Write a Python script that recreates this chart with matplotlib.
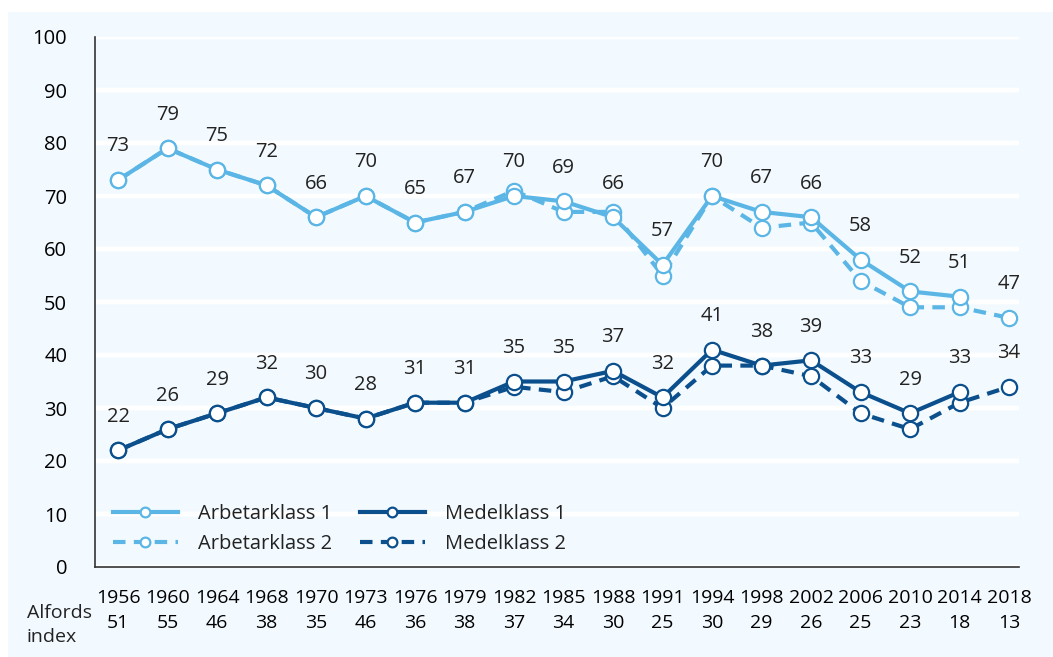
import matplotlib.pyplot as plt
import matplotlib as mpl
import numpy as np

mpl.rcParams.update({
    "font.family": ["Open Sans", "DejaVu Sans"],
    "font.size": 14,
    "text.color": "#222222",
})

years = ["1956", "1960", "1964", "1968", "1970", "1973", "1976", "1979", "1982", "1985",
         "1988", "1991", "1994", "1998", "2002", "2006", "2010", "2014", "2018"]
alford = [51, 55, 46, 38, 35, 46, 36, 38, 37, 34, 30, 25, 30, 29, 26, 25, 23, 18, 13]

# None = no value for that year
arbetar1 = [73, 79, 75, 72, 66, 70, 65, 67, 70, 69, 66, 57, 70, 67, 66, 58, 52, 51, None]
arbetar2 = [73, 79, 75, 72, 66, 70, 65, 67, 71, 67, 67, 55, 70, 64, 65, 54, 49, 49, 47]
medel1 = [22, 26, 29, 32, 30, 28, 31, 31, 35, 35, 37, 32, 41, 38, 39, 33, 29, 33, None]
medel2 = [22, 26, 29, 32, 30, 28, 31, 31, 34, 33, 36, 30, 38, 38, 36, 29, 26, 31, 34]

LIGHT = "#5bb6e6"
DARK = "#0b4f8c"
BG = "#f3faff"


def arr(vals):
    return np.array([np.nan if v is None else v for v in vals], dtype=float)


fig = plt.figure(figsize=(10.53, 6.57), dpi=100, facecolor="white")
fig.patches.append(mpl.patches.Rectangle((8 / 1053, 0), 1, 1 - 12 / 657,
                                         transform=fig.transFigure, facecolor=BG,
                                         edgecolor="none", zorder=-10))
ax = fig.add_axes([95 / 1053, 90 / 657, 924 / 1053, 530 / 657])
ax.set_facecolor(BG)

x = np.arange(len(years))
mk = dict(marker="o", markersize=11, markerfacecolor="white", markeredgewidth=1.6)

ax.plot(x, arr(arbetar2), color=LIGHT, lw=3, dashes=(3, 2), label="Arbetarklass 2",
        markeredgecolor=LIGHT, zorder=3, **mk)
ax.plot(x, arr(arbetar1), color=LIGHT, lw=3, label="Arbetarklass 1",
        markeredgecolor=LIGHT, zorder=4, **mk)
ax.plot(x, arr(medel2), color=DARK, lw=3, dashes=(3, 2), label="Medelklass 2",
        markeredgecolor=DARK, zorder=3, **mk)
ax.plot(x, arr(medel1), color=DARK, lw=3, label="Medelklass 1",
        markeredgecolor=DARK, zorder=4, **mk)

# value labels: series 1, falling back on series 2 where series 1 is missing
for i in range(len(years)):
    for s1, s2 in [(arbetar1, arbetar2), (medel1, medel2)]:
        v = s1[i] if s1[i] is not None else s2[i]
        ax.annotate(str(v), (i, v), xytext=(0, 17), textcoords="offset points",
                    ha="center", va="bottom", fontsize=14.5)

ax.set_ylim(0, 100)
ax.set_xlim(-0.465, 18.2)
ax.set_yticks(range(0, 101, 10))
ax.set_xticks(x, labels=[f"{y}\n{a}" for y, a in zip(years, alford)])
for lab in ax.get_xticklabels():
    lab.set_linespacing(1.5)
ax.tick_params(axis="both", length=0, labelsize=14)
ax.tick_params(axis="y", labelsize=14.5, pad=20)
ax.tick_params(axis="x", pad=16)
ax.grid(axis="y", color="white", lw=3.2, zorder=0)
ax.set_axisbelow(True)
for s in ["top", "right"]:
    ax.spines[s].set_visible(False)
for s in ["left", "bottom"]:
    ax.spines[s].set_color("#333333")
    ax.spines[s].set_linewidth(1.2)
    ax.spines[s].set_zorder(5)

h, l = ax.get_legend_handles_labels()
order = [1, 0, 3, 2]
leg = ax.legend([h[i] for i in order], [l[i] for i in order], ncol=2, frameon=False,
                loc="lower left", bbox_to_anchor=(0.0, -0.01), handlelength=3.2,
                handletextpad=1.0, columnspacing=1.4, labelspacing=0.5, fontsize=14.5)
for lh in leg.legend_handles:
    lh.set_markersize(7)

fig.text(27 / 1053, 1 - 625 / 657, "Alfords\nindex", ha="left", va="center",
         fontsize=14, linespacing=1.4)

fig.savefig("out.png", dpi=100, facecolor="white")
